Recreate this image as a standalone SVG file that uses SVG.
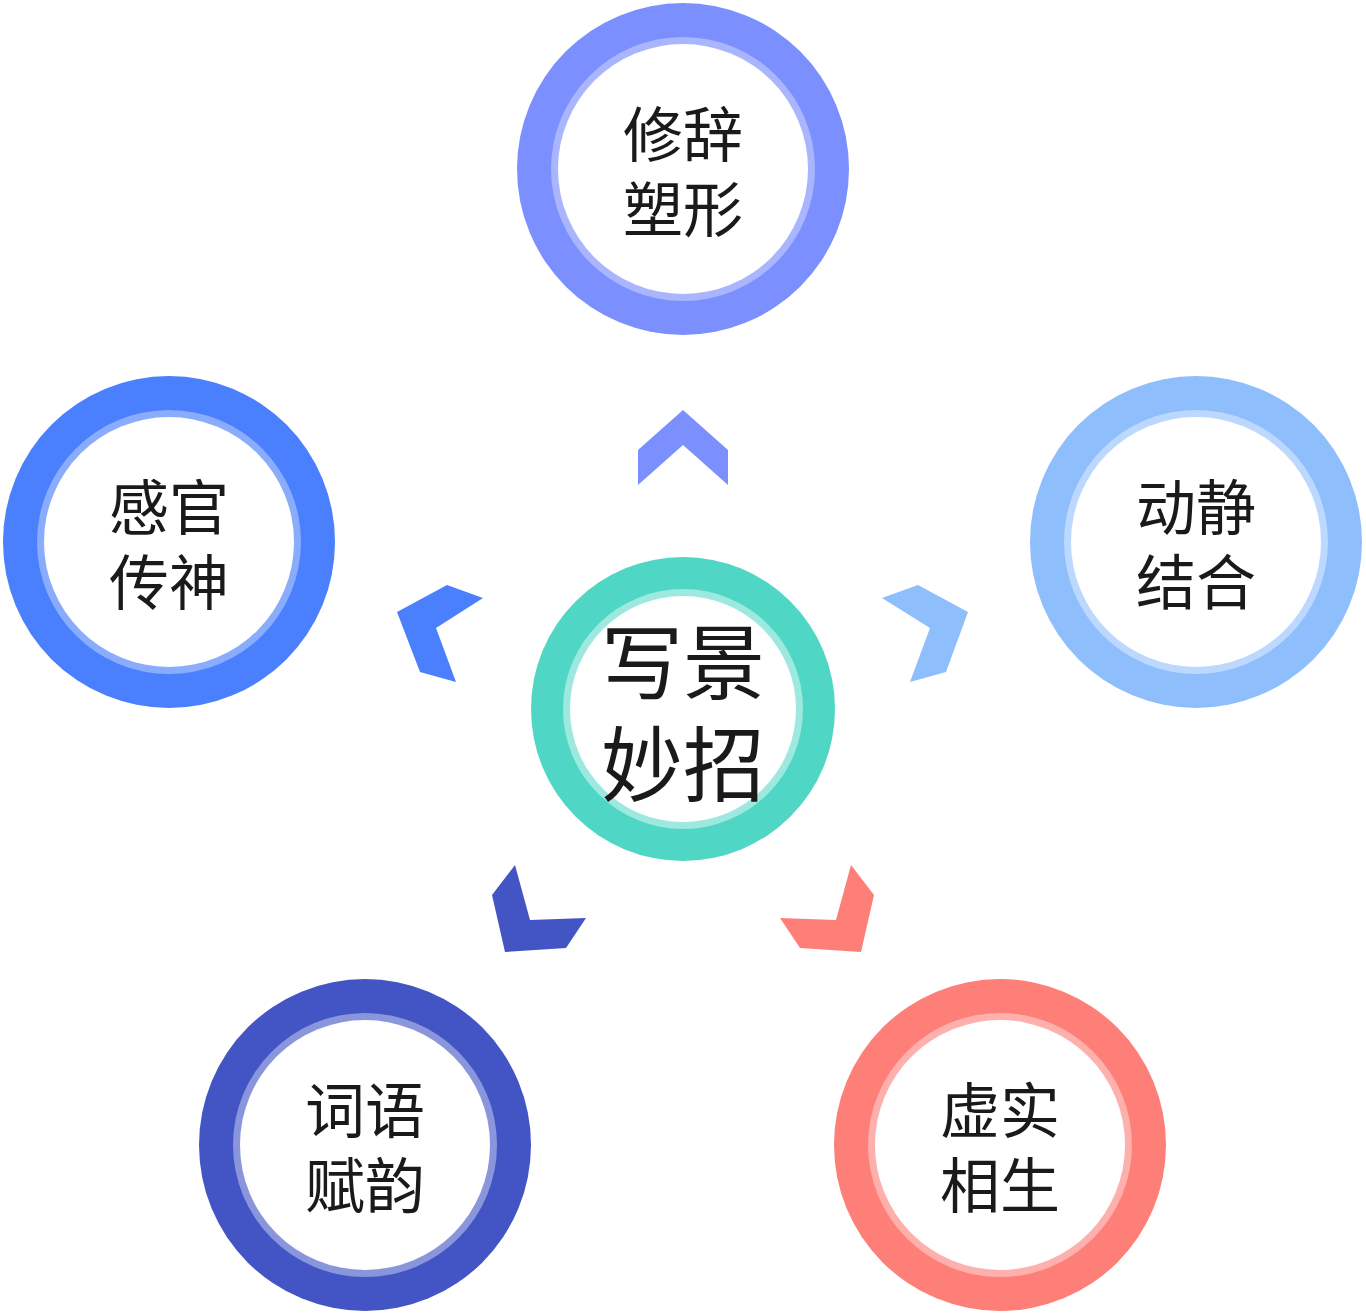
<svg xmlns="http://www.w3.org/2000/svg" width="1366" height="1316" viewBox="0 0 1366 1316">
<style>
.t{font-family:"Noto Sans CJK SC",sans-serif;font-size:60px;fill:#1a1a1a;text-anchor:middle}
.c{font-size:82px}
.w{fill:#fff}
</style>
<rect width="1366" height="1316" fill="#fff"/>
<g id="connectors">
<polygon points="638,450 683,410 728,450 728,485 683,445 638,485" fill="#7b8ffe"/>
<polygon points="397,612 447,585 483,598 436,628 456,682 420,672" fill="#4a7ffd"/>
<polygon points="968,612 918,585 882,598 930,628 910,682 946,672" fill="#8fbefd"/>
<polygon points="515,865 492,895 505,952 566,948 586,918 530,920" fill="#4355c4"/>
<polygon points="851,865 874,895 861,952 800,948 780,918 836,920" fill="#fe7e78"/>
</g>
<g id="top"><circle cx="683" cy="169" r="166" fill="#7b8ffe"/><circle cx="683" cy="169" r="132" fill="#a9b6fe"/><circle cx="683" cy="169" r="125" class="w"/>
<text class="t" x="683" y="157">修辞</text><text class="t" x="683" y="232">塑形</text></g>
<g id="left"><circle cx="169" cy="542" r="166" fill="#4a7ffd"/><circle cx="169" cy="542" r="132" fill="#8aacfd"/><circle cx="169" cy="542" r="125" class="w"/>
<text class="t" x="169" y="530">感官</text><text class="t" x="169" y="605">传神</text></g>
<g id="right"><circle cx="1196" cy="542" r="166" fill="#8fbefd"/><circle cx="1196" cy="542" r="132" fill="#bcd8fe"/><circle cx="1196" cy="542" r="125" class="w"/>
<text class="t" x="1196" y="530">动静</text><text class="t" x="1196" y="605">结合</text></g>
<g id="bottomleft"><circle cx="365" cy="1145" r="166" fill="#4355c4"/><circle cx="365" cy="1145" r="132" fill="#8a96dc"/><circle cx="365" cy="1145" r="125" class="w"/>
<text class="t" x="365" y="1133">词语</text><text class="t" x="365" y="1208">赋韵</text></g>
<g id="bottomright"><circle cx="1000" cy="1145" r="166" fill="#fe7e78"/><circle cx="1000" cy="1145" r="132" fill="#feb0ac"/><circle cx="1000" cy="1145" r="125" class="w"/>
<text class="t" x="1000" y="1133">虚实</text><text class="t" x="1000" y="1208">相生</text></g>
<g id="center"><circle cx="683" cy="709" r="152" fill="#4fd6c5"/><circle cx="683" cy="709" r="120" fill="#9de9df"/><circle cx="683" cy="709" r="113" class="w"/>
<text class="t c" x="683" y="693">写景</text><text class="t c" x="683" y="795">妙招</text></g>
</svg>
